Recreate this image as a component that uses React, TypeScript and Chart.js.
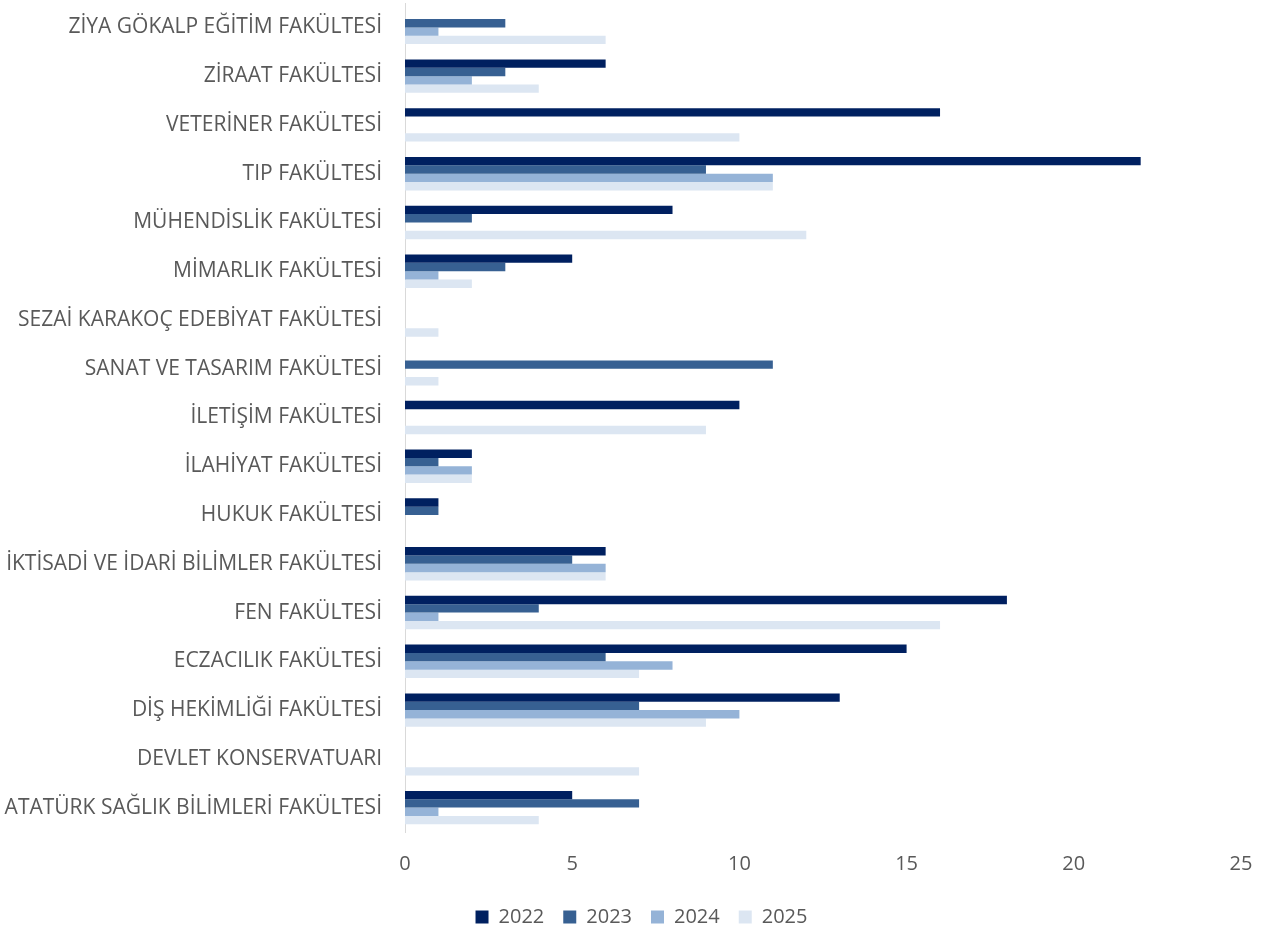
import React, { useEffect, useRef } from "react";
import { Chart, registerables } from "chart.js";

Chart.register(...registerables);

// Faculties, listed top to bottom
const faculties = [
  "ZİYA GÖKALP EĞİTİM FAKÜLTESİ",
  "ZİRAAT FAKÜLTESİ",
  "VETERİNER FAKÜLTESİ",
  "TIP FAKÜLTESİ",
  "MÜHENDİSLİK FAKÜLTESİ",
  "MİMARLIK FAKÜLTESİ",
  "SEZAİ KARAKOÇ EDEBİYAT FAKÜLTESİ",
  "SANAT VE TASARIM FAKÜLTESİ",
  "İLETİŞİM FAKÜLTESİ",
  "İLAHİYAT FAKÜLTESİ",
  "HUKUK FAKÜLTESİ",
  "İKTİSADİ VE İDARİ BİLİMLER FAKÜLTESİ",
  "FEN FAKÜLTESİ",
  "ECZACILIK FAKÜLTESİ",
  "DİŞ HEKİMLİĞİ FAKÜLTESİ",
  "DEVLET KONSERVATUARI",
  "ATATÜRK SAĞLIK BİLİMLERİ FAKÜLTESİ",
];

const years = ["2022", "2023", "2024", "2025"];

const values2022 = [0, 6, 16, 22, 8, 5, 0, 0, 10, 2, 1, 6, 18, 15, 13, 0, 5];
const values2023 = [3, 3, 0, 9, 2, 3, 0, 11, 0, 1, 1, 5, 4, 6, 7, 0, 7];
const values2024 = [1, 2, 0, 11, 0, 1, 0, 0, 0, 2, 0, 6, 1, 8, 10, 0, 1];
const values2025 = [6, 4, 10, 11, 12, 2, 1, 1, 9, 2, 0, 6, 16, 7, 9, 7, 4];

const xTicks = [0, 5, 10, 15, 20, 25];

const seriesColors = ["#002060", "#376092", "#95B3D7", "#DCE6F2"];

const TEXT_COLOR = "#595959";
const FONT_FAMILY = "'Open Sans', 'Noto Sans', sans-serif";

// Centres the legend row under the whole canvas rather than the padded box
const legendShift = {
  id: "legendShift",
  afterLayout(chart: any) {
    const legend = chart.legend;
    if (!legend) return;
    legend.left += 21;
    legend.right += 21;
  },
};

export default function App() {
  const canvasRef = useRef<HTMLCanvasElement | null>(null);

  useEffect(() => {
    const canvas = canvasRef.current;
    if (!canvas) return;
    const series = [values2022, values2023, values2024, values2025];

    const chart = new Chart(canvas, {
      type: "bar",
      data: {
        labels: faculties,
        datasets: years.map((year, i) => ({
          label: year,
          data: series[i],
          backgroundColor: seriesColors[i],
          borderWidth: 0,
          categoryPercentage: 0.685,
          barPercentage: 1,
        })),
      },
      plugins: [legendShift],
      options: {
        indexAxis: "y",
        responsive: false,
        animation: false,
        layout: { padding: { top: 3, right: 23, bottom: -8, left: 0 } },
        scales: {
          x: {
            min: 0,
            max: 25,
            afterBuildTicks: (scale: any) => {
              scale.ticks = xTicks.map((v) => ({ value: v }));
            },
            afterFit: (scale: any) => {
              scale.height = 56;
              scale.paddingLeft = 0;
              scale.paddingRight = 0;
            },
            grid: { display: false, drawTicks: false },
            border: { display: false },
            ticks: {
              padding: 20,
              color: TEXT_COLOR,
              font: { family: FONT_FAMILY, size: 20 },
            },
          },
          y: {
            afterFit: (scale: any) => {
              scale.width = 405;
              scale.paddingTop = 0;
              scale.paddingBottom = 0;
            },
            grid: { display: false, drawTicks: false },
            border: { display: true, color: "#D9D9D9", width: 1 },
            ticks: {
              padding: 23,
              color: TEXT_COLOR,
              autoSkip: false,
              font: { family: FONT_FAMILY, size: 21 },
            },
          },
        },
        plugins: {
          legend: {
            position: "bottom",
            labels: {
              boxWidth: 13,
              boxHeight: 13,
              padding: 19,
              color: TEXT_COLOR,
              font: { family: FONT_FAMILY, size: 20 },
            },
          },
          tooltip: { enabled: false },
        },
      },
    });

    return () => chart.destroy();
  }, []);

  return (
    <div style={{ position: "absolute", left: 0, top: 0, width: 1264, height: 929, background: "#fff" }}>
      <canvas ref={canvasRef} width={1264} height={929} />
    </div>
  );
}
